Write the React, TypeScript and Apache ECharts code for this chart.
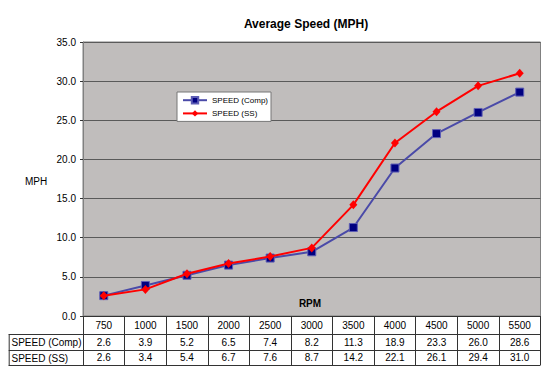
import React, { useEffect, useRef } from "react";
import * as echarts from "echarts";

const categories = ["750", "1000", "1500", "2000", "2500", "3000", "3500", "4000", "4500", "5000", "5500"];
const seriesNames = ["SPEED (Comp)", "SPEED (SS)"];
const speedComp = [2.6, 3.9, 5.2, 6.5, 7.4, 8.2, 11.3, 18.9, 23.3, 26.0, 28.6];
const speedSS = [2.6, 3.4, 5.4, 6.7, 7.6, 8.7, 14.2, 22.1, 26.1, 29.4, 31.0];
const titleText = "Average Speed (MPH)";
const yName = "MPH";
const xName = "RPM";

const FONT = "Liberation Sans, Arial, sans-serif";

export default function App() {
  const ref = useRef<HTMLDivElement>(null);
  useEffect(() => {
    if (!ref.current) return;
    const chart = echarts.init(ref.current, undefined, { renderer: "svg" });
    const plotL = 83, plotR = 540.5, plotT = 42, plotB = 316;
    const tableL = 8.7;
    const row2 = 334, row3 = 350, rowEnd = 365;
    const lineColor = "#333";
    const tableAxis = (vals: number[], offset: number) => ({
      type: "category",
      gridIndex: 0,
      position: "bottom",
      offset,
      data: vals.map((v) => v.toFixed(1)),
      boundaryGap: true,
      axisLine: { show: false },
      axisTick: { show: false },
      splitLine: { show: false },
      axisLabel: { fontSize: 10, color: "#000", margin: 4, fontFamily: FONT, interval: 0 },
    });
    chart.setOption({
      animation: false,
      backgroundColor: "#fff",
      textStyle: { fontFamily: FONT },
      grid: {
        left: plotL,
        right: 550 - plotR,
        top: plotT,
        bottom: 376 - plotB,
        show: true,
        backgroundColor: "#c0bdbc",
        borderColor: "#808080",
        borderWidth: 1,
      },
      legend: {
        data: seriesNames,
        orient: "vertical",
        left: 177,
        top: 92,
        backgroundColor: "#fff",
        borderColor: "#777",
        borderWidth: 1,
        borderRadius: 0,
        padding: [4, 3, 4, 5],
        itemWidth: 24,
        itemHeight: 8,
        itemGap: 5,
        textStyle: { fontSize: 8, color: "#000", fontFamily: FONT },
      },
      xAxis: [
        {
          type: "category",
          data: categories,
          boundaryGap: true,
          axisLine: { show: true, lineStyle: { color: lineColor, width: 1 } },
          axisTick: { show: true, length: rowEnd - plotB, lineStyle: { color: lineColor } },
          axisLabel: { fontSize: 10, color: "#000", margin: 4, fontFamily: FONT, interval: 0 },
          splitLine: { show: false },
        },
        tableAxis(speedComp, 17),
        tableAxis(speedSS, 32.5),
      ],
      yAxis: {
        type: "value",
        min: 0,
        max: 35,
        interval: 5,
        axisLine: { show: true, lineStyle: { color: "#808080" } },
        axisTick: { show: true, length: 3, lineStyle: { color: "#333" } },
        axisLabel: {
          fontSize: 10,
          color: "#000",
          margin: 7,
          fontFamily: FONT,
          formatter: (v: number) => v.toFixed(1),
        },
        splitLine: { show: true, lineStyle: { color: "#5a5a5a", width: 1 } },
      },
      series: [
        {
          name: seriesNames[0],
          type: "line",
          data: speedComp,
          xAxisIndex: 0,
          symbol: "rect",
          symbolSize: 8,
          lineStyle: { color: "#4a4aa8", width: 2 },
          itemStyle: { color: "#000080", borderColor: "#5c5cb4", borderWidth: 1 },
          z: 2,
        },
        {
          name: seriesNames[1],
          type: "line",
          data: speedSS,
          xAxisIndex: 0,
          symbol: "diamond",
          symbolSize: [8, 9],
          lineStyle: { color: "#ff0000", width: 2 },
          itemStyle: { color: "#ff0000" },
          z: 3,
        },
      ],
      graphic: [
        {
          type: "text",
          x: 306,
          y: 24,
          style: { text: titleText, font: `bold 12px ${FONT}`, fill: "#000", align: "center", verticalAlign: "middle" },
        },
        {
          type: "text",
          x: 36,
          y: 181,
          style: { text: yName, font: `10px ${FONT}`, fill: "#000", align: "center", verticalAlign: "middle" },
        },
        {
          type: "text",
          x: 310,
          y: 303,
          z: 10,
          style: { text: xName, font: `bold 10px ${FONT}`, fill: "#000", align: "center", verticalAlign: "middle" },
        },
        {
          type: "text",
          x: 11.5,
          y: (row2 + row3) / 2 + 0.5,
          style: { text: seriesNames[0], font: `10px ${FONT}`, fill: "#000", align: "left", verticalAlign: "middle" },
        },
        {
          type: "text",
          x: 11.5,
          y: (row3 + rowEnd) / 2 + 0.5,
          style: { text: seriesNames[1], font: `10px ${FONT}`, fill: "#000", align: "left", verticalAlign: "middle" },
        },
        ...[row2, row3, rowEnd].map((y) => ({
          type: "line",
          shape: { x1: tableL, y1: y + 0.5, x2: plotR, y2: y + 0.5 },
          style: { stroke: lineColor, lineWidth: 1 },
        })),
        {
          type: "line",
          shape: { x1: tableL + 0.5, y1: row2, x2: tableL + 0.5, y2: rowEnd + 1 },
          style: { stroke: lineColor, lineWidth: 1 },
        },
      ],
    });
    return () => chart.dispose();
  }, []);
  return <div ref={ref} style={{ position: "fixed", left: 0, top: 0, width: 550, height: 376 }} />;
}
